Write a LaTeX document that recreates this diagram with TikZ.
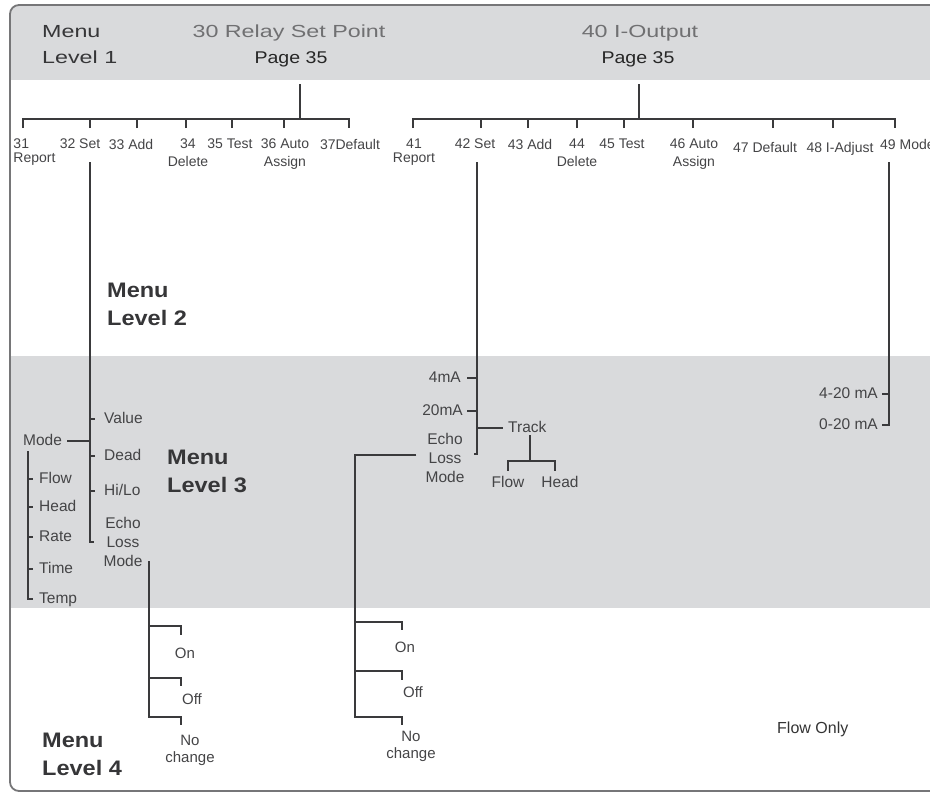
\documentclass[tikz,border=0pt]{standalone}
\usepackage{fontspec}
\setmainfont{Liberation Sans}
\newfontfamily\widesans[FakeStretch=1.33]{Liberation Sans}
\newfontfamily\pagesans[FakeStretch=1.15]{Liberation Sans}
\newfontfamily\boldwide[FakeStretch=1.12]{Liberation Sans}
\usetikzlibrary{positioning}
\definecolor{band}{RGB}{217,218,220}
\definecolor{ink}{RGB}{58,58,60}
\definecolor{txt}{RGB}{68,68,70}
\definecolor{head}{RGB}{112,112,114}
\definecolor{rim}{RGB}{118,118,120}
\tikzset{
  wire/.style={draw=ink, line width=2.2pt},
  item/.style={font=\fontsize{14}{14}\selectfont, text=txt, inner sep=0pt, align=center, anchor=north},
  sub/.style={font=\fontsize{15.5}{19}\selectfont, text=txt, inner sep=0pt, text height=11pt, text depth=3pt, anchor=base west},
  subr/.style={sub, anchor=base east},
  stack/.style={font=\fontsize{15.5}{19}\selectfont, text=txt, inner sep=0pt, align=center, anchor=north},
  leaf/.style={font=\fontsize{15}{17}\selectfont, text=txt, inner sep=0pt, align=center},
  lvl/.style={font=\boldwide\bfseries\fontsize{21}{28}\selectfont, text=txt!80!black, inner sep=0pt, align=left, anchor=north west},
  ttl/.style={font=\widesans\fontsize{17.5}{20}\selectfont, text=head, inner sep=0pt, anchor=base},
  pg/.style={font=\pagesans\fontsize{17}{20}\selectfont, text=black!85, inner sep=0pt, anchor=base}
}
\begin{document}
\begin{tikzpicture}[x=1pt,y=-1pt]
\useasboundingbox (0,0) rectangle (930,796);
\begin{scope}
  \clip[rounded corners=9pt] (10,5) rectangle (950,791);
  \fill[band] (0,0) rectangle (950,80);
  \fill[band] (0,356) rectangle (950,608);
\end{scope}
\draw[rim, line width=1.8pt, rounded corners=9pt] (10,5) rectangle (950,791);

\node[lvl, font=\widesans\fontsize{17.5}{26}\selectfont] (lvl1) at (42,25) {Menu\\Level 1};
\node[lvl] (lvl2) at (107,283) {Menu\\Level 2};
\node[lvl] (lvl3) at (167,450) {Menu\\Level 3};
\node[lvl] (lvl4) at (42,733) {Menu\\Level 4};

\node[ttl] (relay) at (289,37) {30 Relay Set Point};
\node[pg] (page30) at (291,63) {Page 35};
\node[ttl] (ioutput) at (640,37) {40 I-Output};
\node[pg] (page40) at (638,63) {Page 35};

\node[item, align=left] (m31) at (34.5,139) {31\\Report};
\node[item] (m32) at (80,139) {32 Set};
\node[item] (m33) at (131,139) {33 Add};
\node[item] (m34) at (188,139) {34\\[4pt]Delete};
\node[item] (m35) at (230,139) {35 Test};
\node[item] (m36) at (285,139) {36 Auto\\[4pt]Assign};
\node[item] (m37) at (350,139) {37Default};
\node[item] (m41) at (414,139) {41\\Report};
\node[item] (m42) at (475,139) {42 Set};
\node[item] (m43) at (530,139) {43 Add};
\node[item] (m44) at (577,139) {44\\[4pt]Delete};
\node[item] (m45) at (622,139) {45 Test};
\node[item] (m46) at (694,139) {46 Auto\\[4pt]Assign};
\node[item] (m47) at (765,142) {47 Default};
\node[item] (m48) at (840,142) {48 I-Adjust};
\node[item, anchor=north west] (m49) at (880,139) {49 Mode};

\foreach \n/\x in {31/23,32/90,33/137,34/186,35/232,36/284,37/349,
  41/413,42/481,43/528,44/577,45/624,46/693,47/773,48/833,49/895}
  \coordinate (k\n) at (\x,128);
\coordinate (top30) at (300,84);
\coordinate (hub30) at (300,119);
\coordinate (top40) at (639,84);
\coordinate (hub40) at (639,119);
\draw[wire] (top30) -- (hub30);
\draw[wire] (k31) |- (hub30) -| (k37);
\foreach \n in {32,...,36}
  \draw[wire] (k\n) -- (k\n |- hub30);
\draw[wire] (top40) -- (hub40);
\draw[wire] (k41) |- (hub40) -| (k49);
\foreach \n in {42,...,48}
  \draw[wire] (k\n) -- (k\n |- hub40);

\coordinate (s32) at (90,162);
\coordinate (s42) at (477,162);
\coordinate (s49) at (889,162);

\node[sub] (value) at (104,423) {Value};
\node[sub] (dead) at (104,460) {Dead};
\node[sub] (hilo) at (104,495) {Hi/Lo};
\node[stack] (elm1) at (123,517) {Echo\\Loss\\Mode};
\node[sub] (mode1) at (23,445) {Mode};
\foreach \l in {value,dead,hilo}
  \draw[wire, shorten >=9pt] (s32 |- \l.west) -- (\l.west);
\draw[wire, shorten >=9pt] (s32) |- (elm1.west);
\draw[wire, shorten >=5pt] (s32 |- mode1.east) -- (mode1.east);

\coordinate (sm) at (28,451);
\foreach \n/\t/\y in {flow/Flow/479,head/Head/507,rate/Rate/537,time/Time/569,temp/Temp/599}
  \node[sub] (\n) at (39,\y+4) {\t};
\foreach \n in {flow,head,rate,time}
  \draw[wire, shorten >=6pt] (sm |- \n.west) -- (\n.west);
\draw[wire, shorten >=6pt] (sm) |- (temp.west);

\node[subr] (ma4) at (461,382) {4mA};
\node[subr] (ma20) at (463,415) {20mA};
\node[sub] (track) at (508,432) {Track};
\node[stack] (elm2) at (445,433) {Echo\\Loss\\Mode};
\draw[wire, shorten >=6pt] (s42 |- ma4.east) -- (ma4.east);
\draw[wire, shorten >=4pt] (s42 |- ma20.east) -- (ma20.east);
\draw[wire, shorten >=5pt] (s42 |- track.west) -- (track.west);
\draw[wire, shorten >=9pt] (s42) |- ([yshift=4pt]elm2.east);

\node[sub, anchor=base] (tflow) at (508,487) {Flow};
\node[sub, anchor=base] (thead) at (560,487) {Head};
\coordinate (tj) at (530,461);
\draw[wire] (track.south -| tj) -- (tj);
\draw[wire] ([yshift=5pt]tflow.north) |- (tj) -| ([xshift=-5pt,yshift=5pt]thead.north);

\node[subr] (r420) at (878,398) {4-20 mA};
\node[subr] (r020) at (878,429) {0-20 mA};
\draw[wire, shorten >=4pt] (s49 |- r420.east) -- (r420.east);
\draw[wire, shorten >=4pt] (s49) |- (r020.east);

\node[leaf, anchor=base] (on1) at (185,658) {On};
\node[leaf, anchor=base] (off1) at (192,704) {Off};
\node[leaf, anchor=north] (no1) at (190,735) {No\\change};
\coordinate (c1) at (149,561);
\coordinate (l1on) at (181,635);
\coordinate (l1off) at (181,686);
\coordinate (l1no) at (181,725);
\draw[wire] (c1) |- ([yshift=8pt]l1no) -- (l1no);
\draw[wire] ([yshift=9pt]l1on -| c1) -| (l1on);
\draw[wire] ([yshift=8pt]l1off -| c1) -| (l1off);

\node[leaf, anchor=base] (on2) at (405,652) {On};
\node[leaf, anchor=base] (off2) at (413,697) {Off};
\node[leaf, anchor=north] (no2) at (411,731) {No\\change};
\coordinate (c2) at (355,455);
\coordinate (l2on) at (402,630);
\coordinate (l2off) at (402,680);
\coordinate (l2no) at (402,725);
\draw[wire, shorten <=9pt] (elm2.west |- c2) -- (c2) |- ([yshift=8pt]l2no) -- (l2no);
\draw[wire] ([yshift=8pt]l2on -| c2) -| (l2on);
\draw[wire] ([yshift=9pt]l2off -| c2) -| (l2off);

\node[sub, font=\fontsize{16}{19}\selectfont, text=black!80] (flowonly) at (777,733) {Flow Only};
\end{tikzpicture}
\end{document}
